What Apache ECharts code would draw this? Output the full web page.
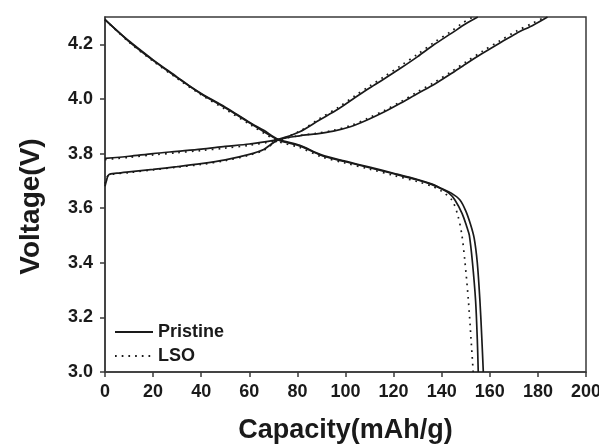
<!DOCTYPE html>
<html>
<head>
<meta charset="utf-8">
<script src="https://cdn.jsdelivr.net/npm/echarts@6/dist/echarts.min.js"></script>
<style>
    html, body { margin: 0; padding: 0; background: #fff; }
    #chart { width: 599px; height: 448px; }
</style>
</head>
<body>
<div id="chart"></div>
<script>
    // capacity (mAh/g), voltage (V) pairs
    var xTicks = [0, 20, 40, 60, 80, 100, 120, 140, 160, 180, 200];
    var yTicks = [3.0, 3.2, 3.4, 3.6, 3.8, 4.0, 4.2];

    var pristineCharge1 = [[0, 3.68], [0.6, 3.70], [1.5, 3.722], [5, 3.728], [10, 3.733], [20, 3.742], [30, 3.752], [40, 3.763], [50, 3.777], [60, 3.797], [66, 3.815], [72, 3.85], [81, 3.865], [88, 3.872], [95, 3.882], [102, 3.898], [109, 3.923], [116, 3.952], [123, 3.985], [130, 4.02], [137, 4.054], [144, 4.093], [150, 4.128], [157, 4.167], [164, 4.204], [171, 4.24], [178, 4.27], [184, 4.3]];
    var pristineCharge2 = [[0, 3.782], [10, 3.79], [20, 3.80], [30, 3.808], [40, 3.816], [50, 3.826], [60, 3.835], [72, 3.852], [81, 3.88], [89, 3.922], [97, 3.963], [104, 4.005], [110, 4.04], [116, 4.073], [123, 4.113], [130, 4.155], [137, 4.2], [144, 4.24], [150, 4.275], [155, 4.3]];
    var pristineDischarge1 = [[0, 4.29], [5, 4.25], [10, 4.212], [20, 4.143], [30, 4.08], [35, 4.048], [40, 4.02], [50, 3.97], [60, 3.915], [66, 3.885], [72, 3.852], [81, 3.83], [90, 3.795], [100, 3.772], [110, 3.75], [120, 3.728], [130, 3.705], [136, 3.688], [140, 3.672], [144, 3.655], [147.6, 3.63], [150, 3.59], [152, 3.54], [153.5, 3.49], [154.8, 3.4], [155.9, 3.26], [156.7, 3.12], [157.3, 3.0]];
    var pristineDischarge2 = [[0, 4.29], [10, 4.21], [20, 4.141], [30, 4.078], [40, 4.018], [50, 3.968], [60, 3.913], [72, 3.85], [81, 3.828], [90, 3.793], [100, 3.77], [110, 3.748], [120, 3.726], [130, 3.703], [136, 3.686], [140, 3.67], [143, 3.655], [145.5, 3.63], [148.5, 3.58], [150.5, 3.53], [151.5, 3.5], [152.8, 3.4], [154.1, 3.26], [154.8, 3.12], [155.2, 3.0]];
    var lsoCharge1 = [[0, 3.69], [1.5, 3.72], [10, 3.73], [20, 3.74], [30, 3.75], [40, 3.76], [50, 3.774], [60, 3.794], [66, 3.812], [72, 3.848], [81, 3.866], [88, 3.874], [95, 3.885], [102, 3.902], [109, 3.928], [116, 3.957], [123, 3.99], [130, 4.026], [137, 4.061], [144, 4.1], [150, 4.135], [157, 4.175], [164, 4.212], [171, 4.248], [178, 4.278], [183, 4.3]];
    var lsoCharge2 = [[0, 3.778], [10, 3.786], [20, 3.795], [30, 3.803], [40, 3.811], [50, 3.82], [60, 3.83], [72, 3.85], [81, 3.882], [89, 3.927], [97, 3.969], [104, 4.012], [110, 4.047], [116, 4.081], [123, 4.122], [130, 4.164], [137, 4.208], [144, 4.248], [149, 4.28], [153, 4.3]];
    var lsoDischarge = [[0, 4.29], [10, 4.208], [20, 4.138], [30, 4.075], [40, 4.015], [50, 3.962], [60, 3.908], [72, 3.845], [81, 3.822], [90, 3.788], [100, 3.765], [110, 3.743], [120, 3.72], [130, 3.697], [136, 3.68], [140, 3.662], [144.2, 3.63], [146.5, 3.58], [148.3, 3.507], [149.7, 3.4], [151.1, 3.262], [152.2, 3.12], [153.1, 3.0]];

    var ink = '#1a1a1a';
    var font = '"Liberation Sans", Arial, sans-serif';

    function curve(name, data, dotted) {
        return {
            name: name,
            type: 'line',
            data: data,
            symbol: 'none',
            smooth: 0.3,
            lineStyle: {
                color: ink,
                width: 1.7,
                type: dotted ? [1.7, 5] : 'solid'
            },
            itemStyle: { color: ink }
        };
    }

    var chart = echarts.init(document.getElementById('chart'));
    chart.setOption({
        animation: false,
        grid: {
            left: 105,
            right: 13,
            top: 17,
            bottom: 76,
            outerBoundsMode: 'none',
            show: true,
            borderColor: '#3a3a3a',
            borderWidth: 1.5
        },
        legend: {
            data: ['Pristine', 'LSO'],
            orient: 'vertical',
            left: 109,
            top: 318,
            itemWidth: 38,
            itemHeight: 12,
            itemGap: 6,
            itemStyle: { opacity: 0 },
            textStyle: { fontFamily: font, fontWeight: 'bold', fontSize: 18, color: ink, lineHeight: 18 }
        },
        xAxis: {
            type: 'value',
            min: 0,
            max: 200,
            interval: 20,
            name: 'Capacity(mAh/g)',
            nameLocation: 'middle',
            nameGap: 45,
            nameTextStyle: { fontFamily: font, fontWeight: 'bold', fontSize: 27, color: ink },
            axisLine: { show: true, lineStyle: { color: '#3a3a3a', width: 1.5 } },
            axisTick: { show: true, inside: false, length: 5, customValues: xTicks, lineStyle: { color: '#3a3a3a', width: 1.5 } },
            axisLabel: { customValues: xTicks, margin: 11, fontFamily: font, fontWeight: 'bold', fontSize: 18, color: ink },
            splitLine: { show: false }
        },
        yAxis: {
            type: 'value',
            min: 3.0,
            max: 4.3,
            interval: 0.2,
            name: 'Voltage(V)',
            nameLocation: 'middle',
            nameGap: 60,
            nameTextStyle: { fontFamily: font, fontWeight: 'bold', fontSize: 28, color: ink, padding: [0, 24, 0, 0] },
            axisLine: { show: true, lineStyle: { color: '#3a3a3a', width: 1.5 } },
            axisTick: { show: true, inside: false, length: 5, customValues: yTicks, lineStyle: { color: '#3a3a3a', width: 1.5 } },
            axisLabel: {
                customValues: yTicks,
                margin: 12,
                fontFamily: font,
                fontWeight: 'bold',
                fontSize: 18,
                color: ink,
                formatter: function (v) { return v.toFixed(1); }
            },
            splitLine: { show: false }
        },
        series: [
            curve('Pristine', pristineCharge1, false),
            curve('Pristine', pristineCharge2, false),
            curve('Pristine', pristineDischarge1, false),
            curve('Pristine', pristineDischarge2, false),
            curve('LSO', lsoCharge1, true),
            curve('LSO', lsoCharge2, true),
            curve('LSO', lsoDischarge, true)
        ]
    });
</script>
</body>
</html>
